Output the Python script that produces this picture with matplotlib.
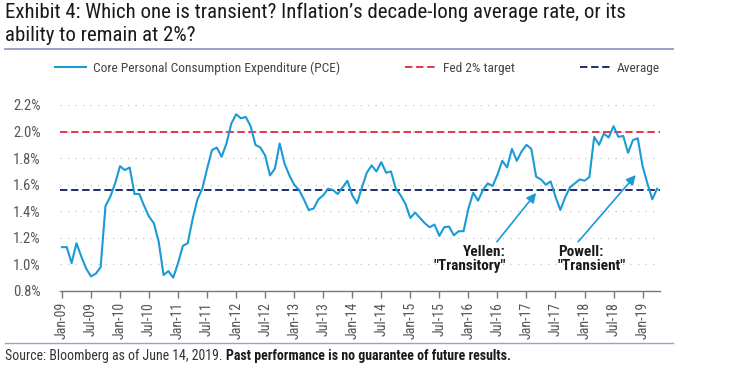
import matplotlib
matplotlib.use('Agg')
import matplotlib.pyplot as plt
from matplotlib import font_manager

# ---------------- data ----------------
pce = [1.13, 1.13, 1.01, 1.16, 1.06, 0.97, 0.91, 0.93, 0.98, 1.44, 1.51, 1.61,
       1.74, 1.71, 1.73, 1.53, 1.53, 1.44, 1.36, 1.31, 1.17, 0.92, 0.95, 0.90,
       1.01, 1.14, 1.16, 1.34, 1.49, 1.57, 1.72, 1.86, 1.88, 1.81, 1.91, 2.06,
       2.13, 2.10, 2.11, 2.04, 1.90, 1.88, 1.82, 1.67, 1.72, 1.91, 1.76, 1.67,
       1.60, 1.56, 1.49, 1.41, 1.42, 1.49, 1.52, 1.57, 1.56, 1.53, 1.58, 1.63,
       1.52, 1.46, 1.58, 1.69, 1.745, 1.70, 1.77, 1.69, 1.70, 1.57, 1.52, 1.455,
       1.35, 1.39, 1.35, 1.31, 1.28, 1.30, 1.215, 1.28, 1.285, 1.22, 1.25, 1.25,
       1.42, 1.54, 1.48, 1.56, 1.61, 1.59, 1.675, 1.78, 1.73, 1.87, 1.78, 1.85,
       1.90, 1.87, 1.66, 1.64, 1.60, 1.625, 1.51, 1.41, 1.505, 1.58, 1.61, 1.64,
       1.63, 1.657, 1.96, 1.90, 1.985, 1.955, 2.04, 1.96, 1.967, 1.84, 1.935, 1.95,
       1.74, 1.61, 1.49, 1.57]
month_index = list(range(len(pce)))          # Jan-2009 = 0, monthly
fed_target = 2.0
average = 1.56
tick_labels = ['Jan-09', 'Jul-09', 'Jan-10', 'Jul-10', 'Jan-11', 'Jul-11', 'Jan-12',
               'Jul-12', 'Jan-13', 'Jul-13', 'Jan-14', 'Jul-14', 'Jan-15', 'Jul-15',
               'Jan-16', 'Jul-16', 'Jan-17', 'Jul-17', 'Jan-18', 'Jul-18', 'Jan-19']
tick_pos = [6 * i for i in range(len(tick_labels))]
y_ticks = [0.8, 1.0, 1.2, 1.4, 1.6, 1.8, 2.0, 2.2]

# ---------------- fonts ----------------
names = {f.name for f in font_manager.fontManager.ttflist}
FONT = 'DejaVu Sans'
for cand in ['Liberation Sans Narrow', 'Roboto Condensed', 'Open Sans Condensed', 'Roboto', 'Lato']:
    if cand in names:
        FONT = cand
        break
plt.rcParams['font.family'] = [FONT, 'DejaVu Sans']

BLUE = '#1a9ad6'
RED = '#e8354a'
NAVY = '#1f2d6b'
GRAY = '#555555'
SEP = '#9aa3c7'

fig = plt.figure(figsize=(7.5, 3.68), dpi=100)
ax = fig.add_axes([60 / 750, 1 - 291 / 368, 600 / 750, 186 / 368])

l1, = ax.plot(month_index, pce, color=BLUE, lw=1.5, zorder=4,
              label='Core Personal Consumption Expenditure (PCE)')
l2 = ax.axhline(fed_target, color=RED, lw=1.4, ls=(0, (3.8, 1.9)), zorder=3,
                label='Fed 2% target')
l3 = ax.axhline(average, color=NAVY, lw=1.4, ls=(0, (3.8, 1.9)), zorder=3,
                label='Average')

ax.set_xlim(-0.4, 123.6)
ax.set_ylim(0.8, 2.2)
ax.set_yticks(y_ticks)
ax.set_yticklabels([f'{v:.1f}%' for v in y_ticks])
ax.set_xticks(tick_pos)
ax.set_xticklabels(tick_labels, rotation=90)
ax.yaxis.grid(True, color='#c4c4c4', lw=0.9, ls=(0, (1, 5)))
ax.set_axisbelow(True)
for s in ['top', 'right', 'left']:
    ax.spines[s].set_visible(False)
ax.spines['bottom'].set_color('#777777')
ax.spines['bottom'].set_linewidth(1.0)
ax.tick_params(axis='y', length=0, pad=14, labelsize=10.5, labelcolor=GRAY)
ax.tick_params(axis='x', length=5, width=1.0, color='#777777', direction='out',
               labelsize=10, labelcolor=GRAY, pad=3)

# annotations
ax.annotate('', xy=(98.0, 1.538), xytext=(89.9, 1.171),
            arrowprops=dict(arrowstyle='-|>', color=BLUE, lw=1.2, mutation_scale=14,
                            shrinkA=0, shrinkB=0))
ax.annotate('', xy=(118.6, 1.673), xytext=(106.7, 1.171),
            arrowprops=dict(arrowstyle='-|>', color=BLUE, lw=1.2, mutation_scale=14,
                            shrinkA=0, shrinkB=0))
ax.text(91.8, 1.15, 'Yellen:\n"Transitory"', ha='right', va='top', fontsize=11,
        fontweight='bold', color='#1a1a1a', linespacing=1.05)
ax.text(102.5, 1.15, 'Powell:\n"Transient"', ha='left', va='top', fontsize=11,
        fontweight='bold', color='#1a1a1a', linespacing=1.05)

# legend
fig.legend(handles=[l1, l2, l3], loc='center', bbox_to_anchor=(0.477, 1 - 68 / 368),
           ncol=3, frameon=False, fontsize=9.6, labelcolor='#444444',
           handlelength=2.3, handletextpad=0.5, columnspacing=4.9)

# title
fig.text(5 / 750, 1 - 3 / 368,
         "Exhibit 4: Which one is transient? Inflation\u2019s decade-long average rate, or its\nability to remain at 2%?",
         ha='left', va='top', fontsize=15, color='#1a1a1a', linespacing=1.25)

# separators
fig.add_artist(plt.Line2D([5 / 750, 673 / 750], [1 - 49 / 368] * 2, color=SEP, lw=1.4,
                          transform=fig.transFigure))
fig.add_artist(plt.Line2D([5 / 750, 673 / 750], [1 - 343 / 368] * 2, color=SEP, lw=1.0,
                          transform=fig.transFigure))

# source
t1 = fig.text(5 / 750, 1 - 356 / 368, 'Source: Bloomberg as of June 14, 2019. ',
              ha='left', va='center', fontsize=10, color='#333333')
fig.canvas.draw()
bb = t1.get_window_extent(renderer=fig.canvas.get_renderer())
x_end = fig.transFigure.inverted().transform((bb.x1, bb.y0))[0]
fig.text(x_end, 1 - 356 / 368, 'Past performance is no guarantee of future results.',
         ha='left', va='center', fontsize=10, color='#1a1a1a', fontweight='bold')

fig.savefig('out.png', dpi=100)
